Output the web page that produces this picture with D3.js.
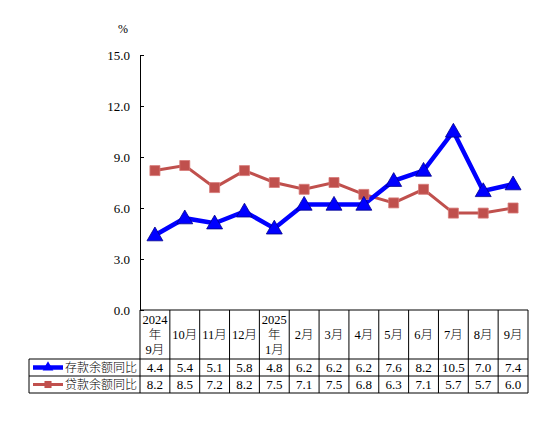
<!DOCTYPE html>
<html><head><meta charset="utf-8">
<script src="https://cdn.jsdelivr.net/npm/d3@7"></script>
<style>body{margin:0;background:#fff}svg{display:block}text{font-family:"Liberation Serif","Times New Roman","Noto Sans CJK SC",serif;fill:#000;font-weight:300}</style>
</head><body>
<script>
const categories = [["2024","年","9月"],["10月"],["11月"],["12月"],["2025","年","1月"],["2月"],["3月"],["4月"],["5月"],["6月"],["7月"],["8月"],["9月"]];
const seriesNames = ["存款余额同比","贷款余额同比"];
const deposits = [4.4,5.4,5.1,5.8,4.8,6.2,6.2,6.2,7.6,8.2,10.5,7.0,7.4];
const loans = [8.2,8.5,7.2,8.2,7.5,7.1,7.5,6.8,6.3,7.1,5.7,5.7,6.0];
const yTicks = [0,3,6,9,12,15];
const colors = ["#0000ff","#c0504d"];

(function(){
const W=554,H=443;
const svg=d3.select("body").append("svg").attr("width",W).attr("height",H);
const pL=140,pR=528,pT=55,pB=310;
const x=d3.scaleBand().domain(d3.range(categories.length)).range([pL,pR]);
const y=d3.scaleLinear().domain([0,15]).range([pB,pT]);

const ya=svg.append("g").attr("transform",`translate(${pL},0)`)
  .call(d3.axisLeft(y).tickValues(yTicks).tickFormat(d3.format(".1f")).tickSizeInner(-4).tickSizeOuter(0).tickPadding(10));
ya.attr("font-family",null).attr("font-size",null);
ya.select(".domain").attr("stroke","#000");
ya.selectAll("line").attr("stroke","#000");
ya.selectAll("text").style("font-size","13px");
svg.append("text").attr("x",123).attr("y",33).attr("text-anchor","middle").style("font-size","12px").text("%");

const line=d3.line().x((d,i)=>x(i)+x.bandwidth()/2).y(d=>y(d));
svg.append("path").datum(loans).attr("d",line).attr("fill","none").attr("stroke",colors[1]).attr("stroke-width",3);
svg.append("path").datum(deposits).attr("d",line).attr("fill","none").attr("stroke",colors[0]).attr("stroke-width",4.5);
const sq=d3.symbol().type(d3.symbolSquare).size(100);
const tri=d3.symbol().type(d3.symbolTriangle).size(110);
svg.append("g").selectAll("path").data(loans).join("path").attr("d",sq)
  .attr("transform",(d,i)=>`translate(${x(i)+x.bandwidth()/2},${y(d)})`).attr("fill",colors[1]).attr("stroke","#d77a77").attr("stroke-width",0.8);
svg.append("g").selectAll("path").data(deposits).join("path").attr("d",tri)
  .attr("transform",(d,i)=>`translate(${x(i)+x.bandwidth()/2},${y(d)+1})`).attr("fill",colors[0]).attr("stroke","#00008b").attr("stroke-width",0.8);

const tl=29, rowY=[310,359,376,393];
const g=svg.append("g").attr("stroke","#000").attr("stroke-width",1);
g.append("line").attr("x1",pL).attr("x2",pR).attr("y1",rowY[0]).attr("y2",rowY[0]);
[1,2,3].forEach(k=>g.append("line").attr("x1",tl).attr("x2",pR).attr("y1",rowY[k]).attr("y2",rowY[k]));
g.append("line").attr("x1",tl).attr("x2",tl).attr("y1",rowY[1]).attr("y2",rowY[3]);
d3.range(categories.length+1).forEach(i=>{
  const xx=i<categories.length?x(i):pR;
  g.append("line").attr("x1",xx).attr("x2",xx).attr("y1",rowY[0]).attr("y2",rowY[3]);
});
categories.forEach((lines,i)=>{
  const cx=x(i)+x.bandwidth()/2, mid=(rowY[0]+rowY[1])/2;
  const lh=15, n=lines.length;
  lines.forEach((t,j)=>{
    svg.append("text").attr("x",cx).attr("y",mid+(j-(n-1)/2)*lh+4.5).attr("text-anchor","middle").style("font-size","12.5px").text(t);
  });
});
[deposits,loans].forEach((vals,k)=>{
  const cy=(rowY[k+1]+rowY[k+2])/2;
  vals.forEach((v,i)=>{
    svg.append("text").attr("x",x(i)+x.bandwidth()/2).attr("y",cy+4.5).attr("text-anchor","middle").style("font-size","13px").text(v.toFixed(1));
  });
  svg.append("line").attr("x1",33).attr("x2",63).attr("y1",cy).attr("y2",cy).attr("stroke",colors[k]).attr("stroke-width",k?3:4.5);
  svg.append("path").attr("d",(k?d3.symbol().type(d3.symbolSquare).size(50):d3.symbol().type(d3.symbolTriangle).size(50))())
    .attr("transform",`translate(48,${cy})`).attr("fill",colors[k]);
  svg.append("text").attr("x",137).attr("y",cy+4.5).attr("text-anchor","end").style("font-size","12px").text(seriesNames[k]);
});
})();
</script>
</body></html>
